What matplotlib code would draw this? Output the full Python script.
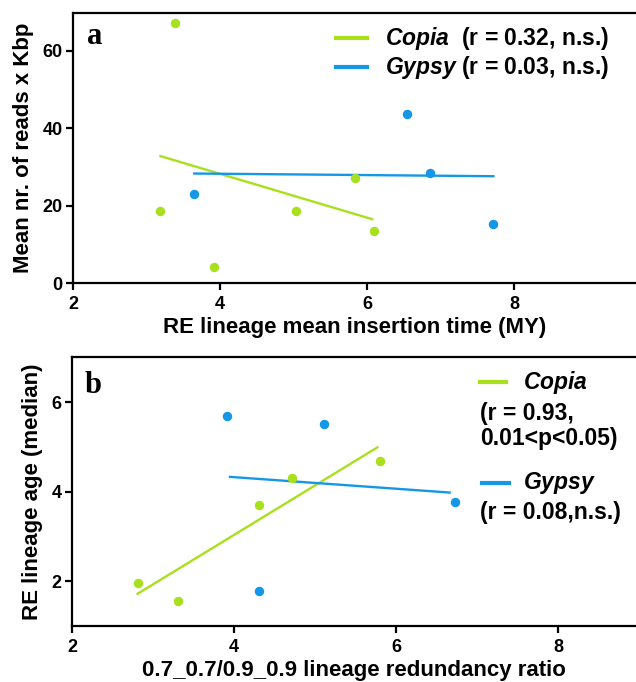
import matplotlib
matplotlib.use("Agg")
import matplotlib.pyplot as plt

# panel a: RE lineage mean insertion time vs mean nr. of reads
a_copia_x = [3.39, 3.19, 3.92, 5.03, 5.83, 6.09]
a_copia_y = [67.3, 18.6, 4.05, 18.6, 27.2, 13.4]
a_gypsy_x = [3.65, 6.55, 6.86, 7.72]
a_gypsy_y = [23.1, 43.6, 28.4, 15.2]
# fitted lines (end points)
a_copia_fit_x = [3.19, 6.07]
a_copia_fit_y = [32.8, 16.5]
a_gypsy_fit_x = [3.65, 7.72]
a_gypsy_fit_y = [28.3, 27.6]

# panel b: redundancy ratio vs RE lineage age
b_copia_x = [2.81, 3.31, 4.31, 4.71, 5.80]
b_copia_y = [1.96, 1.56, 3.70, 4.31, 4.68]
b_gypsy_x = [3.91, 5.11, 4.31, 6.73]
b_gypsy_y = [5.69, 5.51, 1.78, 3.76]
b_copia_fit_x = [2.81, 5.77]
b_copia_fit_y = [1.72, 4.99]
b_gypsy_fit_x = [3.95, 6.66]
b_gypsy_fit_y = [4.33, 3.98]

GREEN = "#a9e01e"
BLUE = "#1597e8"

plt.rcParams["font.family"] = "Liberation Sans"
plt.rcParams["font.weight"] = "bold"
plt.rcParams["mathtext.fontset"] = "custom"
plt.rcParams["mathtext.it"] = "Liberation Sans:italic:bold"
plt.rcParams["mathtext.rm"] = "Liberation Sans:bold"

fig = plt.figure(figsize=(6.36, 6.82), dpi=100)
ax_a = fig.add_axes([0.1148, 0.585, 0.8852, 0.3955])
ax_b = fig.add_axes([0.1132, 0.0821, 0.8868, 0.394])

LEG = 16.5


def style(ax):
    ax.spines["right"].set_visible(False)
    for s in ["left", "bottom", "top"]:
        ax.spines[s].set_linewidth(1.6)
    ax.tick_params(width=1.6, length=5, labelsize=13)
    ax.tick_params(axis="y", pad=2.5)
    ax.tick_params(axis="x", pad=4)


# ---- panel a
ax_a.plot(a_copia_fit_x, a_copia_fit_y, color=GREEN, lw=1.7)
ax_a.plot(a_gypsy_fit_x, a_gypsy_fit_y, color=BLUE, lw=1.7)
ax_a.plot(a_copia_x, a_copia_y, "o", color=GREEN, ms=5.8, ls="none")
ax_a.plot(a_gypsy_x, a_gypsy_y, "o", color=BLUE, ms=5.8, ls="none")
ax_a.set_xlim(2, 9.66)
ax_a.set_ylim(0, 69.7)
ax_a.set_xticks([2, 4, 6, 8])
ax_a.set_yticks([0, 20, 40, 60])
style(ax_a)
ax_a.set_xlabel("RE lineage mean insertion time (MY)", fontsize=16, fontweight="bold", labelpad=3)
ax_a.set_ylabel("Mean nr. of reads x Kbp", fontsize=16, fontweight="bold", labelpad=6)
ax_a.text(0.025, 0.886, "a", transform=ax_a.transAxes, fontsize=22, fontweight="bold",
          family="Liberation Serif", va="baseline")
# legend
ax_a.plot([0.467, 0.523], [0.908, 0.908], transform=ax_a.transAxes, color=GREEN, lw=3)
ax_a.plot([0.467, 0.523], [0.800, 0.800], transform=ax_a.transAxes, color=BLUE, lw=3)
ax_a.text(0.554, 0.908, r"$\mathit{Copia}$  (r = 0.32, n.s.)", transform=ax_a.transAxes,
          fontsize=LEG, va="center")
ax_a.text(0.554, 0.800, r"$\mathit{Gypsy}$ (r = 0.03, n.s.)", transform=ax_a.transAxes,
          fontsize=LEG, va="center")

# ---- panel b
ax_b.plot(b_copia_fit_x, b_copia_fit_y, color=GREEN, lw=1.7)
ax_b.plot(b_gypsy_fit_x, b_gypsy_fit_y, color=BLUE, lw=1.7)
ax_b.plot(b_copia_x, b_copia_y, "o", color=GREEN, ms=5.8, ls="none")
ax_b.plot(b_gypsy_x, b_gypsy_y, "o", color=BLUE, ms=5.8, ls="none")
ax_b.set_xlim(2, 8.96)
ax_b.set_ylim(1, 7)
ax_b.set_xticks([2, 4, 6, 8])
ax_b.set_yticks([2, 4, 6])
style(ax_b)
ax_b.set_xlabel("0.7_0.7/0.9_0.9 lineage redundancy ratio", fontsize=16, fontweight="bold", labelpad=3)
ax_b.set_ylabel("RE lineage age (median)", fontsize=16, fontweight="bold", labelpad=6)
ax_b.text(0.023, 0.867, "b", transform=ax_b.transAxes, fontsize=22, fontweight="bold",
          family="Liberation Serif", va="baseline")
ax_b.plot([0.723, 0.769], [0.908, 0.908], transform=ax_b.transAxes, color=GREEN, lw=3)
ax_b.text(0.80, 0.908, r"$\mathit{Copia}$", transform=ax_b.transAxes, fontsize=LEG, va="center")
ax_b.text(0.723, 0.745, "(r = 0.93,\n0.01<p<0.05)", transform=ax_b.transAxes, fontsize=LEG,
          va="center", linespacing=1.1)
ax_b.plot([0.727, 0.775], [0.532, 0.532], transform=ax_b.transAxes, color=BLUE, lw=3)
ax_b.text(0.80, 0.532, r"$\mathit{Gypsy}$", transform=ax_b.transAxes, fontsize=LEG, va="center")
ax_b.text(0.723, 0.424, "(r = 0.08,n.s.)", transform=ax_b.transAxes, fontsize=LEG, va="center")

fig.savefig("out.png", dpi=100)
